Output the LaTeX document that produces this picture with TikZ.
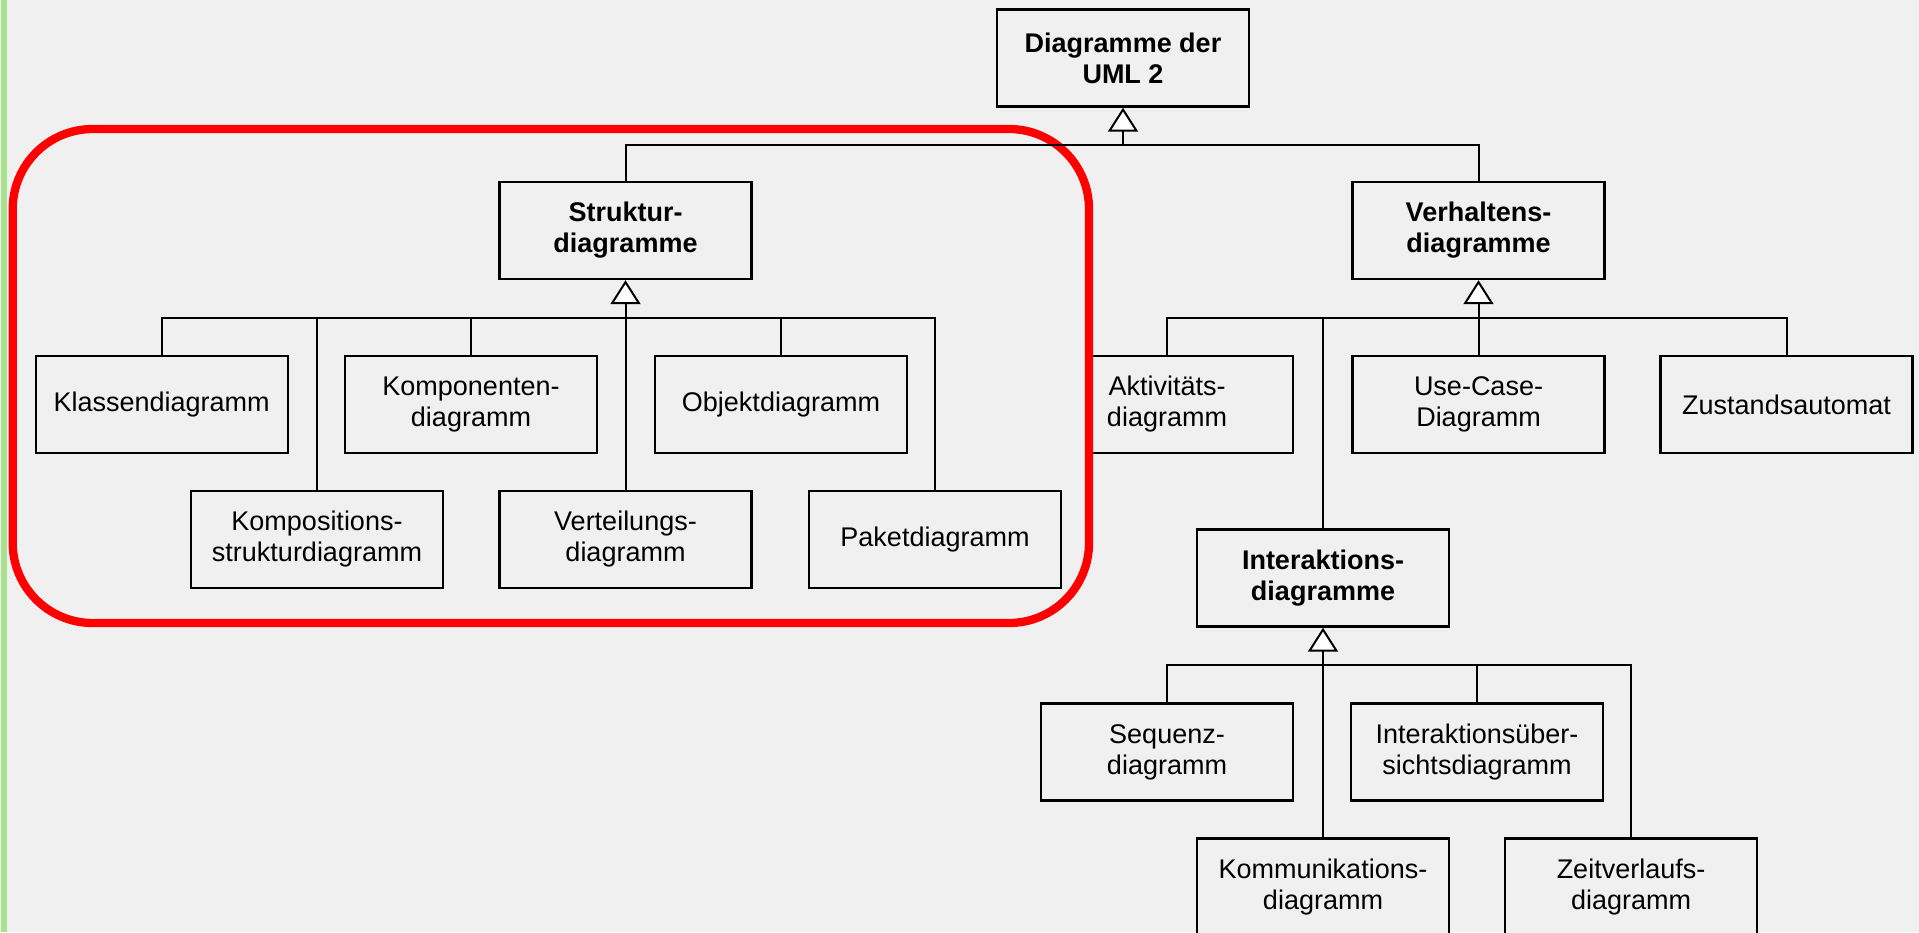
\documentclass[tikz,border=0pt]{standalone}
\usepackage{fontspec}
\setmainfont{Liberation Sans}
\usetikzlibrary{arrows.meta}
\definecolor{bgc}{HTML}{F0F0F0}
\definecolor{grn}{HTML}{A8E28E}
\begin{document}
\begin{tikzpicture}[x=1pt,y=-1pt,
  box/.style={draw=black, line width=2.4pt, fill=bgc, minimum width=252pt, minimum height=97pt, inner sep=0pt, align=center, font=\fontsize{27}{31}\selectfont},
  grp/.style={box, font=\fontsize{27}{31}\selectfont\bfseries},
  conn/.style={draw=black, line width=2pt},
  gen/.style={conn, -{Triangle[length=24pt,width=30pt,fill=white]}},
]
\useasboundingbox (0,0) rectangle (1919,932);
\clip (0,0) rectangle (1919,932);
\fill[bgc] (0,0) rectangle (1919,932);
\fill[grn] (1,0) rectangle (7,932);
% box partly hidden by the highlighted area
\node[box] (akt) at (1167,404.5) {Aktivitäts-\\diagramm};
\draw[red, line width=8.3pt, fill=bgc, rounded corners=80pt] (12.7,129) rectangle (1089,623);
% nodes
\node[grp] (top) at (1123,58) {Diagramme der\\UML 2};
\node[grp] (struktur) at (625.5,230.5) {Struktur-\\diagramme};
\node[grp] (verhalten) at (1478.5,230.5) {Verhaltens-\\diagramme};
\node[box] (klassen) at (161.7,404.5) {Klassendiagramm};
\node[box] (komponenten) at (471,404.5) {Komponenten-\\diagramm};
\node[box] (objekt) at (781,404.5) {Objektdiagramm};
\node[box] (usecase) at (1478.5,404.5) {Use-Case-\\Diagramm};
\node[box] (zustand) at (1786.5,404.5) {Zustandsautomat};
\node[box] (kompositions) at (317,539.5) {Kompositions-\\strukturdiagramm};
\node[box] (verteilung) at (625.5,539.5) {Verteilungs-\\diagramm};
\node[box] (paket) at (935,539.5) {Paketdiagramm};
\node[grp] (interaktion) at (1323,578) {Interaktions-\\diagramme};
\node[box] (sequenz) at (1167,752) {Sequenz-\\diagramm};
\node[box] (uebersicht) at (1477,752) {Interaktionsüber-\\sichtsdiagramm};
\node[box] (kommunikation) at (1323,886.8) {Kommunikations-\\diagramm};
\node[box] (zeit) at (1631,886.8) {Zeitverlaufs-\\diagramm};
% top level
\coordinate (tbus) at (1123,144.5);
\draw[conn] (struktur.north) |- (tbus) -| (verhalten.north);
\draw[gen] (tbus) -- (top.south);
% Struktur group
\coordinate (sbus) at (625.5,318);
\draw[conn] (klassen.north) |- (sbus) -| (paket.north);
\draw[conn] (komponenten.north) -- (komponenten.north |- sbus);
\draw[conn] (objekt.north) -- (objekt.north |- sbus);
\draw[conn] (kompositions.north) -- (kompositions.north |- sbus);
\draw[conn] (verteilung.north) -- (sbus);
\draw[gen] (sbus) -- (struktur.south);
% Verhaltens group
\coordinate (vbus) at (1478.5,318);
\draw[conn] (akt.north) |- (vbus) -| (zustand.north);
\draw[conn] (interaktion.north) -- (interaktion.north |- vbus);
\draw[conn] (usecase.north) -- (vbus);
\draw[gen] (vbus) -- (verhalten.south);
% Interaktions group
\coordinate (ibus) at (1323,664.5);
\draw[conn] (sequenz.north) |- (ibus) -| (zeit.north);
\draw[conn] (uebersicht.north) -- (uebersicht.north |- ibus);
\draw[conn] (kommunikation.north) -- (ibus);
\draw[gen] (ibus) -- (interaktion.south);
\end{tikzpicture}
\end{document}
